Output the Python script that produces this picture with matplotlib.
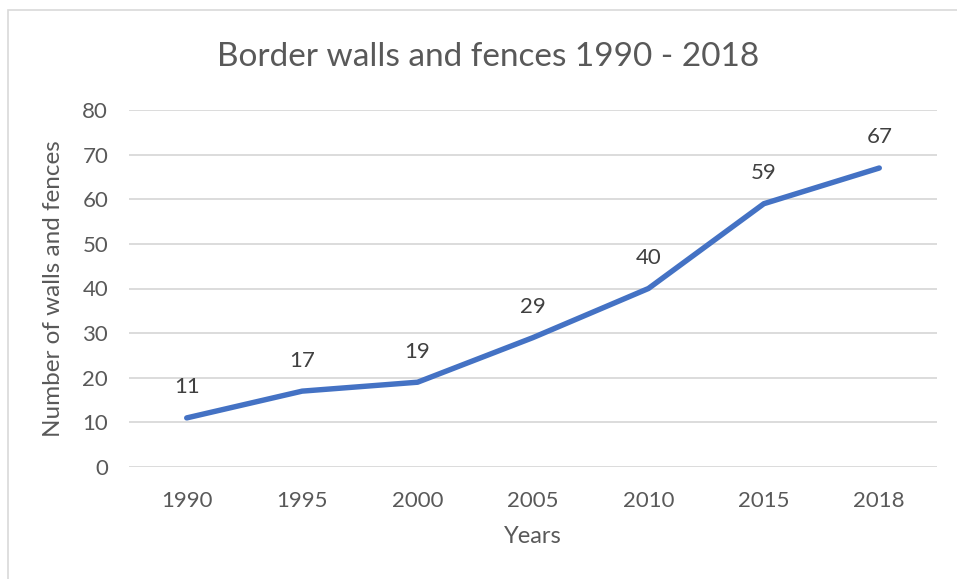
import matplotlib
matplotlib.use("Agg")
import matplotlib.pyplot as plt
from matplotlib.patches import Rectangle

years = ["1990", "1995", "2000", "2005", "2010", "2015", "2018"]
counts = [11, 17, 19, 29, 40, 59, 67]
yticks = [0, 10, 20, 30, 40, 50, 60, 70, 80]

plt.rcParams['font.family'] = ['Lato', 'DejaVu Sans']
text_color = "#595959"
grid_color = "#D9D9D9"

fig = plt.figure(figsize=(9.57, 5.79), dpi=100)
fig.patch.set_facecolor("white")
# chart border (frame extending off the right/bottom edges)
fig.add_artist(Rectangle((8 / 957, -0.1), 1.2, (1 - 10 / 579) + 0.1,
                         transform=fig.transFigure, fill=False,
                         edgecolor=grid_color, linewidth=1.2))

ax = fig.add_axes([129 / 957, 1 - 467 / 579, (937 - 129) / 957, (467 - 110) / 579])
x = list(range(len(years)))
ax.plot(x, counts, color="#4472C4", linewidth=3.9, solid_capstyle="round",
        solid_joinstyle="round", zorder=3)

for xi, v in zip(x, counts):
    ax.annotate(str(v), (xi, v), xytext=(0, 22), textcoords="offset points",
                ha="center", va="center", fontsize=16, color="#404040")

ax.set_xlim(-0.5, len(years) - 0.5)
ax.set_ylim(0, 80)
ax.set_yticks(yticks)
ax.set_xticks(x)
ax.set_xticklabels(years)
ax.yaxis.grid(True, color=grid_color, linewidth=1.3)
ax.set_axisbelow(True)
for s in ["top", "right", "left", "bottom"]:
    ax.spines[s].set_visible(False)
ax.tick_params(axis="both", length=0, labelsize=16, labelcolor=text_color)
ax.tick_params(axis="x", pad=17)
ax.tick_params(axis="y", pad=15)

ax.set_xlabel("Years", fontsize=17, color=text_color, labelpad=11)
ax.set_ylabel("Number of walls and fences", fontsize=17.5, color=text_color, labelpad=13)

fig.text(488 / 957, 1 - 57 / 579, "Border walls and fences 1990 - 2018",
         ha="center", va="center", fontsize=24, color=text_color)

fig.savefig("out.png", dpi=100, facecolor="white")
